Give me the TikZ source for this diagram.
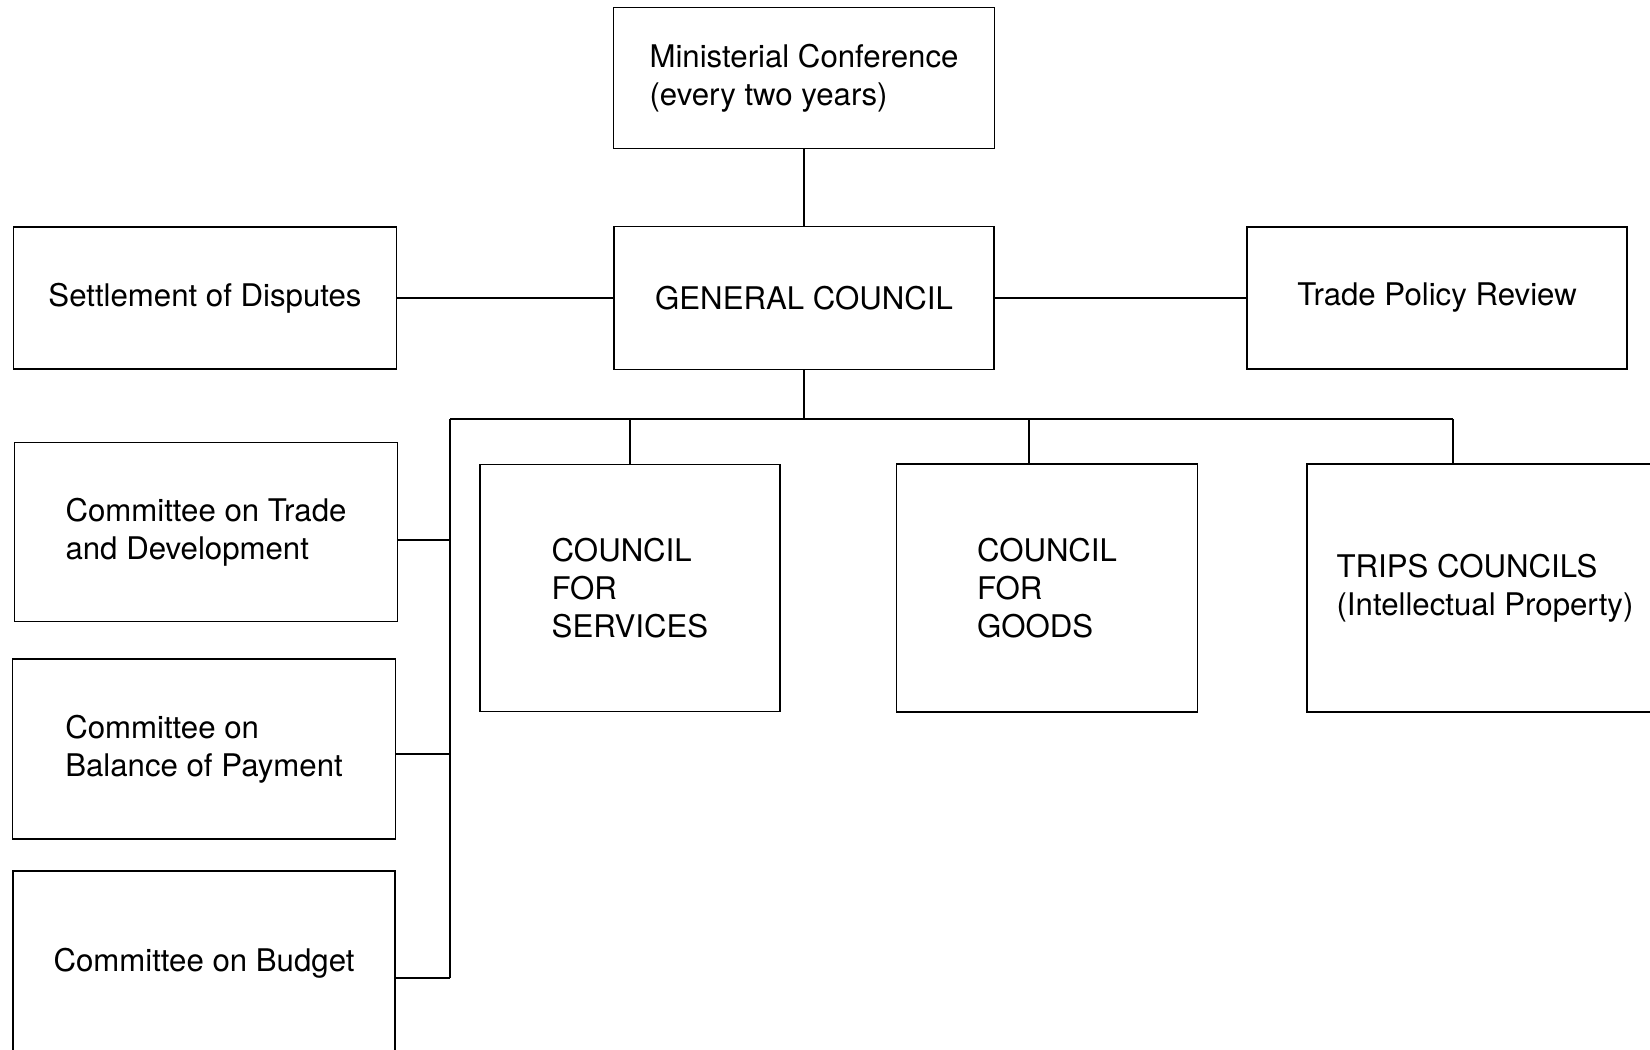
\documentclass[tikz,border=0pt]{standalone}
\usepackage{fontspec}
\setmainfont{TeX Gyre Heros}
\begin{document}
\begin{tikzpicture}[x=0.5pt, y=-0.5pt, line width=0.75pt,
  every node/.style={font=\fontsize{15.6}{19}\selectfont},
  orgbox/.style={draw, align=left, inner sep=0pt}]
  \useasboundingbox (0,0) rectangle (1650,1050);
  \node[orgbox, minimum width=190.5pt, minimum height=70.5pt] (mc) at (804,78) {Ministerial Conference\\(every two years)};
  \node[orgbox, minimum width=190pt, minimum height=71.5pt] (gc) at (804,298) {GENERAL COUNCIL};
  \node[orgbox, minimum width=191.5pt, minimum height=71pt] (sd) at (205,298) {Settlement of Disputes};
  \node[orgbox, minimum width=190pt, minimum height=71pt] (tpr) at (1437,298) {Trade Policy Review};
  \node[orgbox, minimum width=150pt, minimum height=123.5pt] (cs) at (630,588) {COUNCIL\\FOR\\SERVICES};
  \node[orgbox, minimum width=150.5pt, minimum height=124pt] (cg) at (1047,588) {COUNCIL\\FOR\\GOODS};
  \node[orgbox, minimum width=178pt, minimum height=124pt] (trips) at (1485,588) {TRIPS COUNCILS\\(Intellectual Property)};
  \node[orgbox, minimum width=191.5pt, minimum height=89.5pt] (ctd) at (206,532) {Committee on Trade\\and Development};
  \node[orgbox, minimum width=191.5pt, minimum height=90pt] (cbp) at (204,749) {Committee on\\Balance of Payment};
  \node[orgbox, minimum width=191pt, minimum height=92pt] (cb) at (204,963) {Committee on Budget};
  \coordinate (busL) at (450,419);
  \coordinate (busR) at (1453,419);
  \coordinate (busB) at (450,978);
  \draw (mc.south) -- (gc.north);
  \draw (sd.east) -- (gc.west);
  \draw (gc.east) -- (tpr.west);
  \draw (gc.south) -- (gc.south |- busL);
  \draw (busL) -- (busR);
  \draw (busL) -- (busB);
  \draw (cs.north) -- (cs.north |- busL);
  \draw ([xshift=-9pt]cg.north) -- ([xshift=-9pt]cg.north |- busL);
  \draw (busR) -- (busR |- trips.north);
  \draw ([yshift=-4pt]ctd.east) -- ([yshift=-4pt]ctd.east -| busL);
  \draw ([yshift=-2.5pt]cbp.east) -- ([yshift=-2.5pt]cbp.east -| busL);
  \draw (cb.east |- busB) -- (busB);
\end{tikzpicture}
\end{document}
